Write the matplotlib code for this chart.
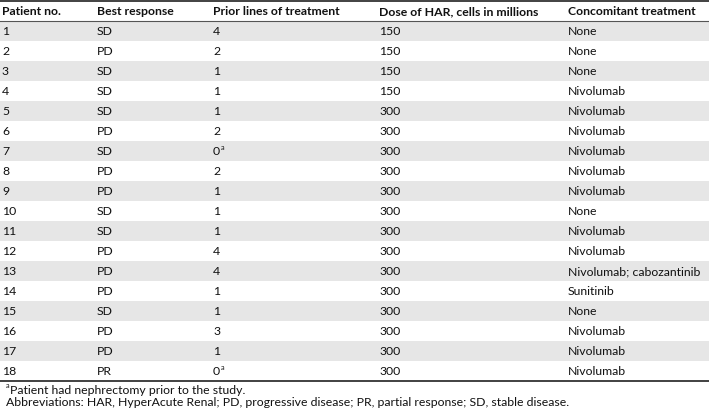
import matplotlib
matplotlib.use('Agg')
import matplotlib.pyplot as plt

# table data
headers = ["Patient no.", "Best response", "Prior lines of treatment",
           "Dose of HAR, cells in millions", "Concomitant treatment"]
patient = [str(i) for i in range(1, 19)]
response = ["SD", "PD", "SD", "SD", "SD", "PD", "SD", "PD", "PD",
            "SD", "SD", "PD", "PD", "PD", "SD", "PD", "PD", "PR"]
prior_lines = ["4", "2", "1", "1", "1", "2", "0", "2", "1",
               "1", "1", "4", "4", "1", "1", "3", "1", "0"]
prior_note = ["", "", "", "", "", "", "a", "", "",
              "", "", "", "", "", "", "", "", "a"]
dose = ["150", "150", "150", "150"] + ["300"] * 14
concomitant = ["None", "None", "None", "Nivolumab", "Nivolumab", "Nivolumab",
               "Nivolumab", "Nivolumab", "Nivolumab", "None", "Nivolumab",
               "Nivolumab", "Nivolumab; cabozantinib", "Sunitinib", "None",
               "Nivolumab", "Nivolumab", "Nivolumab"]
footnote = "Patient had nephrectomy prior to the study."
abbrev = ("Abbreviations: HAR, HyperAcute Renal; PD, progressive disease; "
          "PR, partial response; SD, stable disease.")

W, H = 709, 408
fig = plt.figure(figsize=(W / 100, H / 100), dpi=100)
ax = fig.add_axes([0, 0, 1, 1])
ax.set_xlim(0, W)
ax.set_ylim(H, 0)
ax.axis("off")

font = "Lato"
fs = 8.8
txt = "#111111"
col_x = [2, 97, 213, 379, 568]
row_h = 20
top = 21

# shaded rows
for i in range(len(patient)):
    if i % 2 == 0:
        ax.add_patch(plt.Rectangle((0, top + i * row_h), W, row_h,
                                   color="#e6e6e6", lw=0))

# rules
ax.plot([0, W], [1, 1], color="#333333", lw=1.3)
ax.plot([0, W], [top, top], color="#555555", lw=0.8)
bottom = top + len(patient) * row_h
ax.plot([0, W], [bottom, bottom], color="#333333", lw=1.3)

for x, h in zip(col_x, headers):
    ax.text(x, 11.5, h, family=font, fontsize=fs, fontweight="bold",
            va="center", ha="left", color=txt)

cols = [patient, response, prior_lines, dose, concomitant]
for i in range(len(patient)):
    y = top + i * row_h + row_h / 2 + 0.5
    for x, col in zip(col_x, cols):
        ax.text(x, y, col[i], family=font, fontsize=fs,
                va="center", ha="left", color=txt)
    if prior_note[i]:
        ax.text(col_x[2] + 7.5, y - 4.5, prior_note[i], family=font,
                fontsize=fs * 0.6, va="center", ha="left", color=txt)

ax.text(10, 390, footnote, family=font, fontsize=fs,
        va="center", ha="left", color=txt)
ax.text(6, 386, "a", family=font, fontsize=fs * 0.6,
        va="center", ha="left", color=txt)
ax.text(6, 402, abbrev, family=font, fontsize=fs,
        va="center", ha="left", color=txt)

fig.savefig("out.png", dpi=100)
